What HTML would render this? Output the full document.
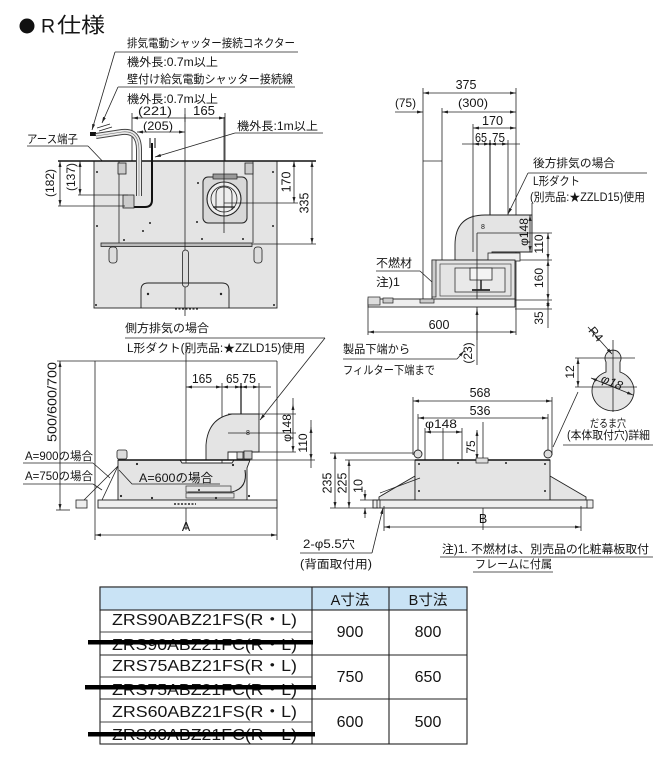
<!DOCTYPE html>
<html><head><meta charset="utf-8"><style>
html,body{margin:0;padding:0;background:#fff;}
svg{display:block;}
text{font-family:"Liberation Sans","Noto Sans CJK JP",sans-serif;fill:#151515;}
.d{stroke:#222;stroke-width:0.8;fill:none;marker-start:url(#a);marker-end:url(#a);}
.l{stroke:#222;stroke-width:0.8;fill:none;}
.k{stroke:#111;stroke-width:1;fill:none;}
.g{fill:#e4e4e4;stroke:#222;stroke-width:0.9;}
</style></head><body>
<svg width="669" height="762" viewBox="0 0 669 762" xmlns="http://www.w3.org/2000/svg">
<defs>
<marker id="a" viewBox="0 0 10 10" refX="10" refY="5" markerWidth="6" markerHeight="6" markerUnits="userSpaceOnUse" orient="auto-start-reverse"><path d="M0,2.5 L10,5 L0,7.5z" fill="#222"/></marker>
</defs>

<!-- Title -->
<circle cx="27" cy="26" r="7.5" fill="#111"/>
<text x="41" y="32.5" font-size="19.5">R</text>
<text x="57" y="32.5" font-size="21" textLength="48" lengthAdjust="spacingAndGlyphs">仕様</text>

<!-- ===== Top-left plan view ===== -->
<text x="127" y="47" font-size="11.5" textLength="168" lengthAdjust="spacingAndGlyphs">排気電動シャッター接続コネクター</text>
<line x1="115" y1="52" x2="298" y2="52" class="l"/>
<text x="127" y="66" font-size="11.5" textLength="91" lengthAdjust="spacingAndGlyphs">機外長:0.7m以上</text>
<text x="127" y="83" font-size="11.5" textLength="166" lengthAdjust="spacingAndGlyphs">壁付け給気電動シャッター接続線</text>
<line x1="118" y1="87" x2="295" y2="87" class="l"/>
<text x="127" y="103" font-size="11.5" textLength="91" lengthAdjust="spacingAndGlyphs">機外長:0.7m以上</text>
<line x1="115" y1="52" x2="92" y2="130" class="l" marker-end="url(#a)"/>
<line x1="118" y1="87" x2="102" y2="123" class="l" marker-end="url(#a)"/>

<text x="138" y="115" font-size="12" textLength="34" lengthAdjust="spacingAndGlyphs">(221)</text>
<text x="193" y="115" font-size="12.5" textLength="22" lengthAdjust="spacingAndGlyphs">165</text>
<text x="143" y="130" font-size="12" textLength="30" lengthAdjust="spacingAndGlyphs">(205)</text>
<text x="237" y="130" font-size="11.5" textLength="81" lengthAdjust="spacingAndGlyphs">機外長:1m以上</text>
<line x1="235" y1="133" x2="323" y2="133" class="l"/>
<line x1="235" y1="133" x2="155" y2="157" class="l" marker-end="url(#a)"/>
<text x="27" y="143" font-size="11.5" textLength="51" lengthAdjust="spacingAndGlyphs">アース端子</text>
<line x1="27" y1="146" x2="88" y2="146" class="l"/>
<line x1="88" y1="146" x2="130" y2="190" class="l"/>

<!-- top dims -->
<line x1="132" y1="113" x2="132" y2="161" class="l"/>
<line x1="225" y1="113" x2="225" y2="232" class="l"/>
<line x1="132" y1="118" x2="225" y2="118" class="d"/>
<line x1="185" y1="114" x2="185" y2="122" class="l"/>
<line x1="137" y1="132" x2="185" y2="132" class="d"/>

<!-- body -->
<rect x="94" y="161" width="183" height="147" class="g"/>
<line x1="58" y1="161" x2="316" y2="161" stroke="#111" stroke-width="1.5"/>
<line x1="119" y1="161" x2="119" y2="243" class="l"/>
<line x1="253" y1="161" x2="253" y2="243" class="l"/>
<rect x="101" y="243" width="151" height="3.5" fill="#bbb" stroke="#222" stroke-width="0.8"/>
<rect x="118" y="163" width="8" height="11" fill="#ccc" stroke="#222" stroke-width="0.8"/>
<rect x="245" y="163" width="8" height="11" fill="#ccc" stroke="#222" stroke-width="0.8"/>
<line x1="185" y1="108" x2="185" y2="316" class="l"/>
<!-- fan -->
<rect x="203" y="177" width="44" height="46" rx="5" fill="#d8d8d8" stroke="#222" stroke-width="1"/>
<rect x="213" y="174" width="24" height="5" fill="#999" stroke="#222" stroke-width="0.7"/>
<circle cx="224" cy="199" r="17" fill="#eee" stroke="#222" stroke-width="1.1"/>
<circle cx="224" cy="199" r="13" fill="none" stroke="#222" stroke-width="0.8"/>
<path d="M216,210 L216,195 Q216,187 224,187 Q232,187 232,195 L232,210" fill="none" stroke="#222" stroke-width="0.8"/>
<line x1="213" y1="207" x2="235" y2="207" stroke="#222" stroke-width="1.3"/>
<line x1="224" y1="117" x2="224" y2="233" class="l"/>
<line x1="224" y1="203" x2="298" y2="203" class="l"/>
<line x1="252" y1="244" x2="316" y2="244" class="l"/>
<!-- bottom details -->
<rect x="109" y="247" width="8" height="16" rx="3" fill="#ddd" stroke="#222" stroke-width="0.8"/>
<rect x="254" y="247" width="8" height="16" rx="3" fill="#ddd" stroke="#222" stroke-width="0.8"/>
<rect x="182.5" y="250" width="6" height="37" rx="3" fill="#ddd" stroke="#222" stroke-width="0.8"/>
<path d="M141,308 L141,290 Q141,283 148,283 L222,283 Q229,283 229,290 L229,308" fill="none" stroke="#222" stroke-width="0.9"/>
<g fill="#222">
<circle cx="97" cy="172" r="1"/><circle cx="273" cy="172" r="1"/><circle cx="97" cy="226" r="1"/><circle cx="273" cy="226" r="1"/>
<circle cx="143" cy="231" r="1"/><circle cx="150" cy="223" r="1"/><circle cx="198" cy="183" r="1"/><circle cx="197" cy="222" r="1"/>
<circle cx="202" cy="239" r="1"/><circle cx="243" cy="239" r="1"/><circle cx="124" cy="240" r="1"/><circle cx="148" cy="294" r="1.2"/><circle cx="221" cy="294" r="1.2"/>
<circle cx="96" cy="305" r="1"/><circle cx="274" cy="305" r="1"/>
</g>
<line x1="175" y1="309" x2="199" y2="309" stroke="#222" stroke-width="1.2" stroke-dasharray="2,1.5"/>
<!-- cables -->
<rect x="90" y="132" width="6" height="4" fill="#111"/>
<path d="M97,128 L110,124 M99,131 L112,127" class="l"/>
<path d="M96,136 L122,132 Q139,130 139,150 L139,196" fill="none" stroke="#444" stroke-width="6"/>
<path d="M96,136 L122,132 Q139,130 139,150 L139,196" fill="none" stroke="#ececec" stroke-width="4"/>
<path d="M96,136 L122,132 Q139,130 139,150 L139,196" fill="none" stroke="#666" stroke-width="0.6"/>
<path d="M152,143 L152,200 Q152,207 145,207 L130,207" fill="none" stroke="#111" stroke-width="2"/>
<path d="M150,138 L150,148 M155,138 L155,148" class="k"/>
<rect x="123" y="195" width="11" height="13" fill="#ccc" stroke="#222" stroke-width="0.8"/>
<!-- left dims -->
<line x1="60" y1="161" x2="60" y2="206" class="d"/>
<line x1="80" y1="161" x2="80" y2="195" class="d"/>
<line x1="58" y1="206" x2="125" y2="206" class="l"/>
<line x1="78" y1="195" x2="128" y2="195" class="l"/>
<text transform="translate(50,183) rotate(-90)" text-anchor="middle" dy="0.35em" font-size="12">(182)</text>
<text transform="translate(71,177) rotate(-90)" text-anchor="middle" dy="0.35em" font-size="12">(137)</text>
<!-- right dims -->
<line x1="294" y1="161" x2="294" y2="203" class="d"/>
<line x1="312" y1="161" x2="312" y2="244" class="d"/>
<text transform="translate(286,182) rotate(-90)" text-anchor="middle" dy="0.35em" font-size="12.5">170</text>
<text transform="translate(304,203) rotate(-90)" text-anchor="middle" dy="0.35em" font-size="12.5">335</text>

<!-- ===== Top-right side view ===== -->
<text x="466" y="89" text-anchor="middle" font-size="12.5">375</text>
<line x1="423" y1="93" x2="516" y2="93" class="d"/>
<text x="395" y="107" font-size="12" textLength="21" lengthAdjust="spacingAndGlyphs">(75)</text>
<line x1="395" y1="112" x2="423" y2="112" class="l" marker-end="url(#a)"/>
<text x="458" y="107" font-size="12" textLength="30" lengthAdjust="spacingAndGlyphs">(300)</text>
<line x1="442" y1="112" x2="516" y2="112" class="d"/>
<text x="482" y="125" font-size="12.5" textLength="21" lengthAdjust="spacingAndGlyphs">170</text>
<line x1="473" y1="128" x2="516" y2="128" class="d"/>
<text x="475" y="142" font-size="12.5" textLength="12" lengthAdjust="spacingAndGlyphs">65</text>
<text x="492" y="142" font-size="12.5" textLength="13" lengthAdjust="spacingAndGlyphs">75</text>
<line x1="462" y1="144" x2="520" y2="144" class="l"/>
<line x1="473" y1="144" x2="490" y2="144" class="d"/>
<line x1="490" y1="144" x2="508" y2="144" class="d"/>
<circle cx="490" cy="144" r="1.3" fill="#222"/>
<line x1="423" y1="88" x2="423" y2="306" class="l"/>
<line x1="442" y1="108" x2="442" y2="300" class="l"/>
<line x1="473" y1="124" x2="473" y2="253" class="l"/>
<line x1="490" y1="140" x2="490" y2="255" class="k"/>
<line x1="508" y1="140" x2="508" y2="215" class="l"/>
<line x1="516" y1="88" x2="516" y2="335" class="l"/>
<line x1="423" y1="161" x2="442" y2="161" class="l"/>

<text x="533" y="167" font-size="11.5" textLength="82" lengthAdjust="spacingAndGlyphs">後方排気の場合</text>
<line x1="528" y1="173" x2="647" y2="173" class="l"/>
<text x="533" y="185" font-size="11.5" textLength="47" lengthAdjust="spacingAndGlyphs">L形ダクト</text>
<text x="530" y="201" font-size="11.5" textLength="115" lengthAdjust="spacingAndGlyphs">(別売品:★ZZLD15)使用</text>
<line x1="528" y1="173" x2="508" y2="214" class="l" marker-end="url(#a)"/>

<!-- duct -->
<path d="M455,260 L455,245 Q455,215 485,215 L532,215 L532,252 L492,252 L492,260 Z" class="g"/>
<line x1="473" y1="215" x2="473" y2="252" class="l"/>
<text x="481" y="229" font-size="7">8</text>
<line x1="477" y1="233" x2="552" y2="233" class="l"/>
<line x1="532" y1="203" x2="532" y2="215" class="l"/>
<line x1="530" y1="215" x2="530" y2="252" class="d"/>
<line x1="548" y1="233" x2="548" y2="260" class="d"/>
<line x1="548" y1="260" x2="548" y2="300" class="d"/>
<line x1="548" y1="300" x2="548" y2="309" class="d"/>
<line x1="548" y1="309" x2="548" y2="328" class="l"/>
<line x1="515" y1="260" x2="552" y2="260" class="l"/>
<line x1="515" y1="300" x2="552" y2="300" class="l"/>
<line x1="515" y1="309" x2="552" y2="309" class="l"/>
<text transform="translate(524,232) rotate(-90)" text-anchor="middle" dy="0.35em" font-size="12">φ148</text>
<text transform="translate(539,244) rotate(-90)" text-anchor="middle" dy="0.35em" font-size="12">110</text>
<text transform="translate(539,278) rotate(-90)" text-anchor="middle" dy="0.35em" font-size="12">160</text>
<text transform="translate(539,318) rotate(-90)" text-anchor="middle" dy="0.35em" font-size="12">35</text>

<!-- hood body -->
<rect x="488" y="253" width="32" height="8" fill="#eee" stroke="#222" stroke-width="0.8"/>
<rect x="432" y="260" width="83" height="40" class="g"/>
<rect x="432" y="260" width="4" height="37" fill="#ccc" stroke="#222" stroke-width="0.7"/>
<rect x="440" y="264" width="71" height="32" fill="none" stroke="#444" stroke-width="0.7"/>
<rect x="455" y="268" width="50" height="24" fill="#e9e9e9" stroke="#333" stroke-width="0.8"/>
<rect x="470" y="268" width="22" height="12" fill="#f4f4f4" stroke="#222" stroke-width="0.8"/>
<line x1="481" y1="280" x2="481" y2="290" stroke="#222" stroke-width="1.5"/>
<line x1="472" y1="290" x2="490" y2="290" stroke="#222" stroke-width="1.8"/>
<line x1="477" y1="233" x2="477" y2="365" class="l"/>
<rect x="368" y="299" width="147" height="8" fill="#eee" stroke="#222" stroke-width="0.9"/>
<rect x="368" y="297" width="12" height="8" fill="#ddd" stroke="#222" stroke-width="0.7"/>
<rect x="383" y="298" width="10" height="5" fill="#ccc" stroke="#222" stroke-width="0.7"/>
<rect x="420" y="299" width="14" height="4" fill="#ccc" stroke="#222" stroke-width="0.7"/>
<line x1="368" y1="307" x2="368" y2="335" class="l"/>
<text x="376" y="267" font-size="11.5" textLength="36" lengthAdjust="spacingAndGlyphs">不燃材</text>
<line x1="376" y1="271" x2="420" y2="271" class="l"/>
<line x1="420" y1="271" x2="432" y2="282" class="l"/>
<text x="376" y="286" font-size="11.5" textLength="24" lengthAdjust="spacingAndGlyphs">注)1</text>
<text x="439" y="329" text-anchor="middle" font-size="12.5">600</text>
<line x1="368" y1="332" x2="516" y2="332" class="d"/>
<text transform="translate(468,353) rotate(-90)" text-anchor="middle" dy="0.35em" font-size="12">(23)</text>
<line x1="477" y1="340" x2="477" y2="309" class="l" marker-end="url(#a)"/>
<text x="343" y="353" font-size="11.5" textLength="67" lengthAdjust="spacingAndGlyphs">製品下端から</text>
<line x1="343" y1="359" x2="457" y2="359" class="l"/>
<line x1="457" y1="359" x2="464" y2="351" class="l" marker-end="url(#a)"/>
<text x="343" y="374" font-size="11.5" textLength="92" lengthAdjust="spacingAndGlyphs">フィルター下端まで</text>

<!-- daruma hole detail -->
<path d="M606,372 A21,20 0 1 0 620,372 L620,362 A8,8 0 1 0 606,362 Z" fill="#e4e4e4" stroke="#222" stroke-width="0.9"/>
<line x1="575" y1="358" x2="635" y2="358" class="l"/>
<line x1="575" y1="387" x2="637" y2="387" class="l"/>
<line x1="613" y1="340" x2="613" y2="412" class="l"/>
<line x1="578" y1="358" x2="578" y2="387" class="d"/>
<text transform="translate(570,372) rotate(-90)" text-anchor="middle" dy="0.35em" font-size="12">12</text>
<line x1="588" y1="327" x2="612" y2="354" class="l" marker-end="url(#a)"/>
<text transform="translate(596,334) rotate(50)" text-anchor="middle" dy="0.35em" font-size="12">R4</text>
<line x1="591" y1="378" x2="633" y2="395" class="d"/>
<text transform="translate(612,382) rotate(22)" text-anchor="middle" dy="0.35em" font-size="12.5" font-style="italic">φ18</text>
<text x="608" y="427" text-anchor="middle" font-size="11" textLength="36" lengthAdjust="spacingAndGlyphs">だるま穴</text>
<text x="567" y="439" font-size="11.5" textLength="83" lengthAdjust="spacingAndGlyphs">(本体取付穴)詳細</text>
<line x1="563" y1="445" x2="653" y2="445" class="l"/>
<line x1="578" y1="392" x2="553" y2="447" class="l"/>

<!-- ===== Bottom-left front view ===== -->
<text x="125" y="332" font-size="11.5" textLength="84" lengthAdjust="spacingAndGlyphs">側方排気の場合</text>
<line x1="125" y1="338" x2="325" y2="338" class="l"/>
<text x="127" y="352" font-size="11.5" textLength="178" lengthAdjust="spacingAndGlyphs">L形ダクト(別売品:★ZZLD15)使用</text>
<line x1="325" y1="338" x2="260" y2="420" class="l" marker-end="url(#a)"/>
<line x1="186" y1="343" x2="186" y2="530" class="l"/>
<line x1="95" y1="361" x2="95" y2="540" class="l"/>
<line x1="277" y1="361" x2="277" y2="540" class="l"/>
<line x1="57" y1="361" x2="277" y2="361" class="l"/>
<line x1="60" y1="361" x2="60" y2="510" class="d"/>
<line x1="56" y1="510" x2="70" y2="510" class="l"/>
<text transform="translate(52,402) rotate(-90)" text-anchor="middle" dy="0.35em" font-size="12.5" textLength="80" lengthAdjust="spacingAndGlyphs">500/600/700</text>
<text x="192" y="383" font-size="12.5" textLength="20" lengthAdjust="spacingAndGlyphs">165</text>
<text x="226" y="383" font-size="12.5" textLength="13" lengthAdjust="spacingAndGlyphs">65</text>
<text x="242" y="383" font-size="12.5" textLength="14" lengthAdjust="spacingAndGlyphs">75</text>
<line x1="186" y1="387" x2="222" y2="387" class="d"/>
<line x1="222" y1="387" x2="241" y2="387" class="d"/>
<line x1="241" y1="387" x2="259" y2="387" class="d"/>
<line x1="259" y1="387" x2="271" y2="387" class="l"/>
<circle cx="241" cy="387" r="1.3" fill="#222"/>
<line x1="222" y1="383" x2="222" y2="490" class="l"/>
<line x1="241" y1="383" x2="241" y2="455" stroke="#111" stroke-width="1.2"/>
<line x1="259" y1="383" x2="259" y2="418" class="l"/>
<!-- duct -->
<path d="M206,460 L206,445 Q208,418 232,414 L259,414 L259,452 L228,452 L228,460 Z" class="g"/>
<text x="246" y="435" font-size="7">8</text>
<line x1="228" y1="414" x2="296" y2="414" class="l"/>
<line x1="228" y1="433" x2="296" y2="433" class="l"/>
<line x1="256" y1="452" x2="296" y2="452" class="l"/>
<line x1="240" y1="460" x2="315" y2="460" class="l"/>
<line x1="293" y1="404" x2="293" y2="452" class="d"/>
<line x1="293" y1="404" x2="293" y2="398" class="l"/>
<line x1="311" y1="427" x2="311" y2="460" class="d"/>
<line x1="311" y1="420" x2="311" y2="468" class="l"/>
<text transform="translate(287,428) rotate(-90)" text-anchor="middle" dy="0.35em" font-size="12">φ148</text>
<text transform="translate(303,443) rotate(-90)" text-anchor="middle" dy="0.35em" font-size="12">110</text>
<!-- body -->
<path d="M118,460 L180,460 L182,463 L232,463 L234,460 L250,460 L247,468 L247,500 L118,500 Z" class="g"/>
<rect x="117" y="450" width="10" height="9" rx="2" fill="#ddd" stroke="#222" stroke-width="0.8"/>
<rect x="237" y="452" width="6" height="7" fill="#ddd" stroke="#222" stroke-width="0.8"/>
<rect x="244" y="451" width="8" height="8" fill="#ccc" stroke="#222" stroke-width="0.8"/>
<path d="M245,470 Q248,488 232,492 L188,492" fill="none" stroke="#222" stroke-width="1.1"/>
<rect x="186" y="486" width="45" height="6" fill="none" stroke="#333" stroke-width="0.7"/>
<rect x="186" y="493" width="48" height="5" fill="none" stroke="#333" stroke-width="0.7"/>
<line x1="118" y1="460" x2="250" y2="460" stroke="#111" stroke-width="1.4"/>
<g fill="#222"><circle cx="137" cy="464" r="1.1"/><circle cx="121" cy="496" r="1.1"/><circle cx="152" cy="498" r="1.1"/><circle cx="216" cy="498" r="1.1"/><circle cx="233" cy="465" r="1.1"/><circle cx="199" cy="490" r="1"/><circle cx="249" cy="496" r="1.1"/></g>
<rect x="98" y="500" width="179" height="8" fill="#eee" stroke="#222" stroke-width="0.9"/>
<rect x="76" y="500" width="11" height="8" fill="#eee" stroke="#222" stroke-width="0.8"/>
<line x1="174" y1="504" x2="196" y2="504" stroke="#222" stroke-width="1.6" stroke-dasharray="2,1.5"/>
<text x="25" y="460" font-size="11.5" textLength="68" lengthAdjust="spacingAndGlyphs">A=900の場合</text>
<line x1="23" y1="463" x2="93" y2="463" class="l"/>
<line x1="93" y1="463" x2="110" y2="478" class="l"/>
<text x="25" y="480" font-size="11.5" textLength="68" lengthAdjust="spacingAndGlyphs">A=750の場合</text>
<line x1="23" y1="484" x2="93" y2="484" class="l"/>
<line x1="93" y1="484" x2="102" y2="490" class="l"/>
<line x1="118" y1="466" x2="84" y2="500" class="l"/>
<line x1="118" y1="466" x2="102" y2="500" class="l"/>
<text x="139" y="482" font-size="12" textLength="74" lengthAdjust="spacingAndGlyphs">A=600の場合</text>
<path d="M119,470 L132,484 L220,484" class="l"/>
<text x="186" y="531" text-anchor="middle" font-size="12.5">A</text>
<line x1="95" y1="535" x2="277" y2="535" class="d"/>

<!-- ===== Bottom-right front view ===== -->
<text x="480" y="397" text-anchor="middle" font-size="12.5">568</text>
<line x1="413" y1="401" x2="552" y2="401" class="d"/>
<text x="480" y="415" text-anchor="middle" font-size="12.5">536</text>
<line x1="418" y1="418" x2="548" y2="418" class="d"/>
<line x1="413" y1="397" x2="413" y2="455" class="l"/>
<line x1="552" y1="397" x2="552" y2="455" class="l"/>
<line x1="418" y1="414" x2="418" y2="455" class="l"/>
<line x1="548" y1="414" x2="548" y2="455" class="l"/>
<text x="425" y="428" font-size="12" textLength="32" lengthAdjust="spacingAndGlyphs">φ148</text>
<line x1="425" y1="432" x2="462" y2="432" class="d"/>
<line x1="425" y1="428" x2="425" y2="460" class="l"/>
<line x1="462" y1="428" x2="462" y2="460" class="l"/>
<line x1="443" y1="428" x2="443" y2="460" class="l"/>
<text transform="translate(471,447) rotate(-90)" text-anchor="middle" dy="0.35em" font-size="12">75</text>
<line x1="477" y1="430" x2="477" y2="460" class="d"/>
<line x1="483" y1="422" x2="483" y2="530" class="l"/>
<!-- body -->
<polygon points="415,476 379,497 379,500 415,500" class="g"/>
<polygon points="550,476 586,497 586,500 550,500" class="g"/>
<rect x="415" y="460" width="135" height="40" class="g"/>
<line x1="415" y1="460" x2="550" y2="460" stroke="#111" stroke-width="1.4"/>
<rect x="476" y="458" width="12" height="5" fill="#ddd" stroke="#222" stroke-width="0.7"/>
<circle cx="418" cy="454" r="4" fill="#ddd" stroke="#222" stroke-width="0.9"/>
<circle cx="548" cy="454" r="4" fill="#ddd" stroke="#222" stroke-width="0.9"/>
<g fill="#222"><circle cx="419" cy="464" r="1"/><circle cx="458" cy="463" r="1"/><circle cx="506" cy="463" r="1"/><circle cx="545" cy="464" r="1"/><circle cx="419" cy="491" r="1"/><circle cx="545" cy="491" r="1"/><circle cx="581" cy="505" r="1"/><circle cx="384" cy="505" r="1"/></g>
<rect x="373" y="500" width="219" height="8" fill="#eee" stroke="#222" stroke-width="0.9"/>
<rect x="587" y="500" width="6" height="8" fill="#eee" stroke="#222" stroke-width="0.8"/>
<line x1="377" y1="500" x2="377" y2="508" class="l"/><line x1="380" y1="500" x2="380" y2="508" class="l"/>
<text x="483" y="523" text-anchor="middle" font-size="12.5">B</text>
<line x1="384" y1="527" x2="581" y2="527" class="d"/>
<line x1="384" y1="506" x2="384" y2="531" class="l"/>
<line x1="581" y1="506" x2="581" y2="531" class="l"/>
<!-- left dims 235 225 10 -->
<line x1="330" y1="453" x2="413" y2="453" class="l"/>
<line x1="345" y1="460" x2="415" y2="460" class="l"/>
<line x1="330" y1="508" x2="378" y2="508" class="l"/>
<line x1="360" y1="500" x2="378" y2="500" class="l"/>
<line x1="335" y1="453" x2="335" y2="508" class="d"/>
<line x1="349" y1="460" x2="349" y2="508" class="d"/>
<line x1="365" y1="490" x2="365" y2="500" class="l" marker-end="url(#a)"/>
<line x1="365" y1="518" x2="365" y2="508" class="l" marker-end="url(#a)"/>
<text transform="translate(327,483) rotate(-90)" text-anchor="middle" dy="0.35em" font-size="12.5">235</text>
<text transform="translate(342,483) rotate(-90)" text-anchor="middle" dy="0.35em" font-size="12.5">225</text>
<text transform="translate(358,486) rotate(-90)" text-anchor="middle" dy="0.35em" font-size="12.5">10</text>
<line x1="380" y1="493" x2="420" y2="478" class="l"/>
<text x="303" y="548" font-size="11.5" textLength="52" lengthAdjust="spacingAndGlyphs">2-φ5.5穴</text>
<line x1="300" y1="553" x2="372" y2="553" class="l"/>
<line x1="372" y1="553" x2="383" y2="508" class="l" marker-end="url(#a)"/>
<text x="300" y="568" font-size="11.5" textLength="72" lengthAdjust="spacingAndGlyphs">(背面取付用)</text>

<!-- notes -->
<text x="442" y="553" font-size="11.5" textLength="207" lengthAdjust="spacingAndGlyphs">注)1. 不燃材は、別売品の化粧幕板取付</text>
<line x1="440" y1="557" x2="653" y2="557" class="l"/>
<text x="475" y="568" font-size="11.5" textLength="77" lengthAdjust="spacingAndGlyphs">フレームに付属</text>
<line x1="473" y1="572" x2="553" y2="572" class="l"/>

<!-- ===== Table ===== -->
<rect x="100" y="587" width="367" height="157" fill="#fff" stroke="#222" stroke-width="1.1"/>
<rect x="100" y="587" width="367" height="23" fill="#c9e3f5" stroke="#222" stroke-width="1.1"/>
<line x1="312" y1="587" x2="312" y2="744" stroke="#222" stroke-width="1.1"/>
<line x1="389" y1="587" x2="389" y2="744" stroke="#222" stroke-width="1.1"/>
<line x1="100" y1="655" x2="467" y2="655" stroke="#222" stroke-width="1.1"/>
<line x1="100" y1="699" x2="467" y2="699" stroke="#222" stroke-width="1.1"/>
<line x1="100" y1="632" x2="312" y2="632" stroke="#444" stroke-width="0.9"/>
<line x1="100" y1="677" x2="312" y2="677" stroke="#444" stroke-width="0.9"/>
<line x1="100" y1="722" x2="312" y2="722" stroke="#444" stroke-width="0.9"/>
<text x="350" y="605" text-anchor="middle" font-size="14.5">A寸法</text>
<text x="428" y="605" text-anchor="middle" font-size="14.5">B寸法</text>

<text x="112" y="625" font-size="16" textLength="185" lengthAdjust="spacingAndGlyphs">ZRS90ABZ21FS(R・L)</text>
<text x="112" y="650" font-size="16" textLength="185" lengthAdjust="spacingAndGlyphs">ZRS90ABZ21FC(R・L)</text>
<text x="112" y="671" font-size="16" textLength="185" lengthAdjust="spacingAndGlyphs">ZRS75ABZ21FS(R・L)</text>
<text x="112" y="695" font-size="16" textLength="185" lengthAdjust="spacingAndGlyphs">ZRS75ABZ21FC(R・L)</text>
<text x="112" y="717" font-size="16" textLength="185" lengthAdjust="spacingAndGlyphs">ZRS60ABZ21FS(R・L)</text>
<text x="112" y="740" font-size="16" textLength="185" lengthAdjust="spacingAndGlyphs">ZRS60ABZ21FC(R・L)</text>

<text x="350" y="637" text-anchor="middle" font-size="16">900</text>
<text x="428" y="637" text-anchor="middle" font-size="16">800</text>
<text x="350" y="682" text-anchor="middle" font-size="16">750</text>
<text x="428" y="682" text-anchor="middle" font-size="16">650</text>
<text x="350" y="727" text-anchor="middle" font-size="16">600</text>
<text x="428" y="727" text-anchor="middle" font-size="16">500</text>

<rect x="88" y="640" width="225" height="4.5" fill="#000"/>
<rect x="85" y="685" width="231" height="4.5" fill="#000"/>
<rect x="88" y="732" width="227" height="4.5" fill="#000"/>
</svg>
</body></html>
